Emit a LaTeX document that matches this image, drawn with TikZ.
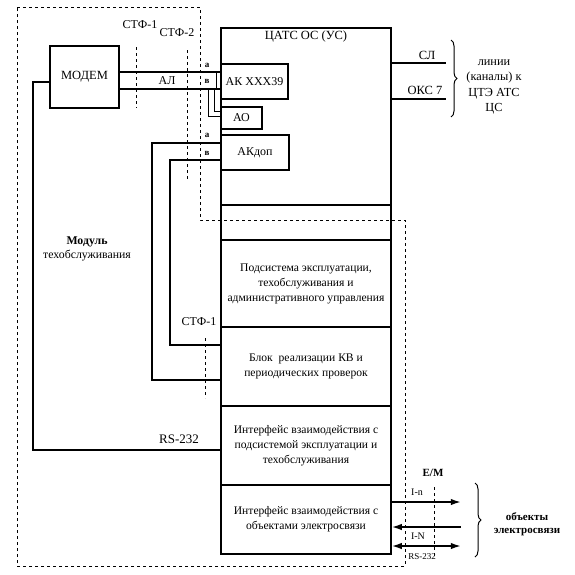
\documentclass[tikz,border=0pt]{standalone}
\usepackage{fontspec}
\setmainfont{Liberation Serif}
\usetikzlibrary{positioning, calc, arrows.meta, decorations.pathreplacing}

\begin{document}
\begin{tikzpicture}[x=1pt, y=-1pt,
	every node/.style={font=\fontsize{11.6}{15}\selectfont},
	box/.style={draw, line width=1.6pt, inner sep=0pt, align=center},
	wire/.style={line width=1.6pt},
	thinwire/.style={line width=1pt},
	border/.style={dashed, line width=0.8pt},
	tiny/.style={font=\fontsize{9}{10}\selectfont\bfseries}]
		\useasboundingbox (0,0) rectangle (575,574);
		
		% dashed borders
		\draw [border] (17,7) -- (200,7) -- (200,220) -- (405,220) -- (405,566) -- (17,566) -- cycle;
		\draw [border] (136,47) -- (136,108);
		\draw [border] (187,50) -- (187,180);
		\draw [border] (205,338) -- (205,398);
		\draw [border] (434,487) -- (434,557);
		
		\node (stfa) [font=\fontsize{12}{14}\selectfont] at (140,25) {СТФ-1};
		\node (stfb) [font=\fontsize{12}{14}\selectfont] at (177,33) {СТФ-2};
		\node (stfc) [font=\fontsize{12}{14}\selectfont] at (199,322) {СТФ-1};
		
		% boxes
		\node (modem) [box, minimum width=69pt, minimum height=62pt, font=\fontsize{12.5}{14}\selectfont] at (84.5,77) {МОДЕМ};
		\node (atc) [box, minimum width=170pt, minimum height=177pt] at (306,116.5) {};
		\node (atctitle) [font=\fontsize{12.5}{14}\selectfont] at (306,36) {ЦАТС ОС (УС)};
		\node (akx) [box, minimum width=67pt, minimum height=35pt, font=\fontsize{12}{14}\selectfont] at (254.5,81.5) {АК XXX39};
		\node (ao) [box, minimum width=41pt, minimum height=22pt, font=\fontsize{12}{14}\selectfont] at (241.5,118) {АО};
		\node (akdop) [box, minimum width=68pt, minimum height=35pt, font=\fontsize{12}{14}\selectfont] at (255,152.5) {АКдоп};
		\node (gap) [box, minimum width=170pt, minimum height=35pt] at (306,222.5) {};
		\node (ops) [box, minimum width=170pt, minimum height=87pt] at (306,283.5) {Подсистема эксплуатации,\\техобслуживания и\\административного управления};
		\node (kv) [box, minimum width=170pt, minimum height=79pt] at (306,366.5) {Блок\ \ реализации КВ и\\периодических проверок};
		\node (ifops) [box, minimum width=170pt, minimum height=79pt] at (306,445.5) {Интерфейс взаимодействия с\\подсистемой эксплуатации и\\техобслуживания};
		\node (ifobj) [box, minimum width=170pt, minimum height=69pt] at (306,519.5) {Интерфейс взаимодействия с\\объектами электросвязи};
		
		\node (module) [align=center, font=\fontsize{11.8}{14}\selectfont] at (87,249) {\textbf{Модуль}\\техобслуживания};
		
		% line to the modem
		\draw [wire] (modem.east |- 0,72) -- (akx.west |- 0,72);
		\draw [wire] (modem.east |- 0,89) -- (akx.west |- 0,89);
		\node (al) [font=\fontsize{12}{14}\selectfont] at (167,81) {АЛ};
		\coordinate (alout) at (208,89);
		\coordinate (alin) at (214,89);
		\draw [thinwire] (alout) |- (ao.west |- 0,116);
		\draw [thinwire] (alin) |- (ao.west |- 0,111);
		\draw [thinwire] (216,72) -- (216,89);
		\node (aa) [tiny] at (207,65) {а};
		\node (ab) [tiny] at (207,81) {в};
		
		% test wires
		\draw [wire] (akdop.west |- 0,143) -- (152,143) |- (kv.west |- 0,380);
		\draw [wire] (akdop.west |- 0,160) -- (170,160) |- (kv.west |- 0,345);
		\node (ba) [tiny] at (207,135) {а};
		\node (bb) [tiny] at (207,153) {в};
		
		\draw [wire] (modem.west |- 0,82) -- (33,82) |- (ifops.west |- 0,450);
		\node (rsa) [font=\fontsize{13}{14}\selectfont] at (179,439) {RS-232};
		
		% lines to the ATS
		\draw [wire] (atc.east |- 0,63) -- ++(54,0) coordinate (sl);
		\draw [wire] (atc.east |- 0,99) -- ++(54,0) coordinate (oks);
		\node (sllabel) [font=\fontsize{12.5}{14}\selectfont] at (427,55) {СЛ};
		\node (okslabel) [font=\fontsize{12.5}{14}\selectfont] at (425,90) {ОКС 7};
		\draw [thinwire, decorate, decoration={brace, amplitude=6pt}] (451,40) -- (451,117);
		\node (lines) [align=center, font=\fontsize{12.3}{15.5}\selectfont] at (494,87) {линии\\(каналы) к\\ЦТЭ АТС\\ЦС};
		
		% lines to the objects
		\draw [wire, -{Latex[length=10pt, width=6.5pt]}] (ifobj.east |- 0,502) -- ++(69,0) coordinate (obja);
		\draw [wire, {Latex[length=10pt, width=6.5pt]}-] (ifobj.east |- 0,527) -- ++(69,0) coordinate (objb);
		\draw [wire, {Latex[length=10pt, width=6.5pt]}-{Latex[length=10pt, width=6.5pt]}] (ifobj.east |- 0,546) -- ++(69,0) coordinate (objc);
		\node (em) [font=\fontsize{11}{12}\selectfont\bfseries] at (433,473) {E/M};
		\node (ina) [font=\fontsize{10}{10}\selectfont] at (417,492) {I-n};
		\node (inb) [font=\fontsize{10}{10}\selectfont] at (418,536) {I-N};
		\node (rsb) [font=\fontsize{9}{9}\selectfont] at (422,557) {RS-232};
		\draw [thinwire, decorate, decoration={brace, amplitude=6pt}] (475,483) -- (475,557);
		\node (objects) [align=center, font=\fontsize{11}{13}\selectfont\bfseries] at (527,524) {объекты\\электросвязи};
		
	\end{tikzpicture}
\end{document}
